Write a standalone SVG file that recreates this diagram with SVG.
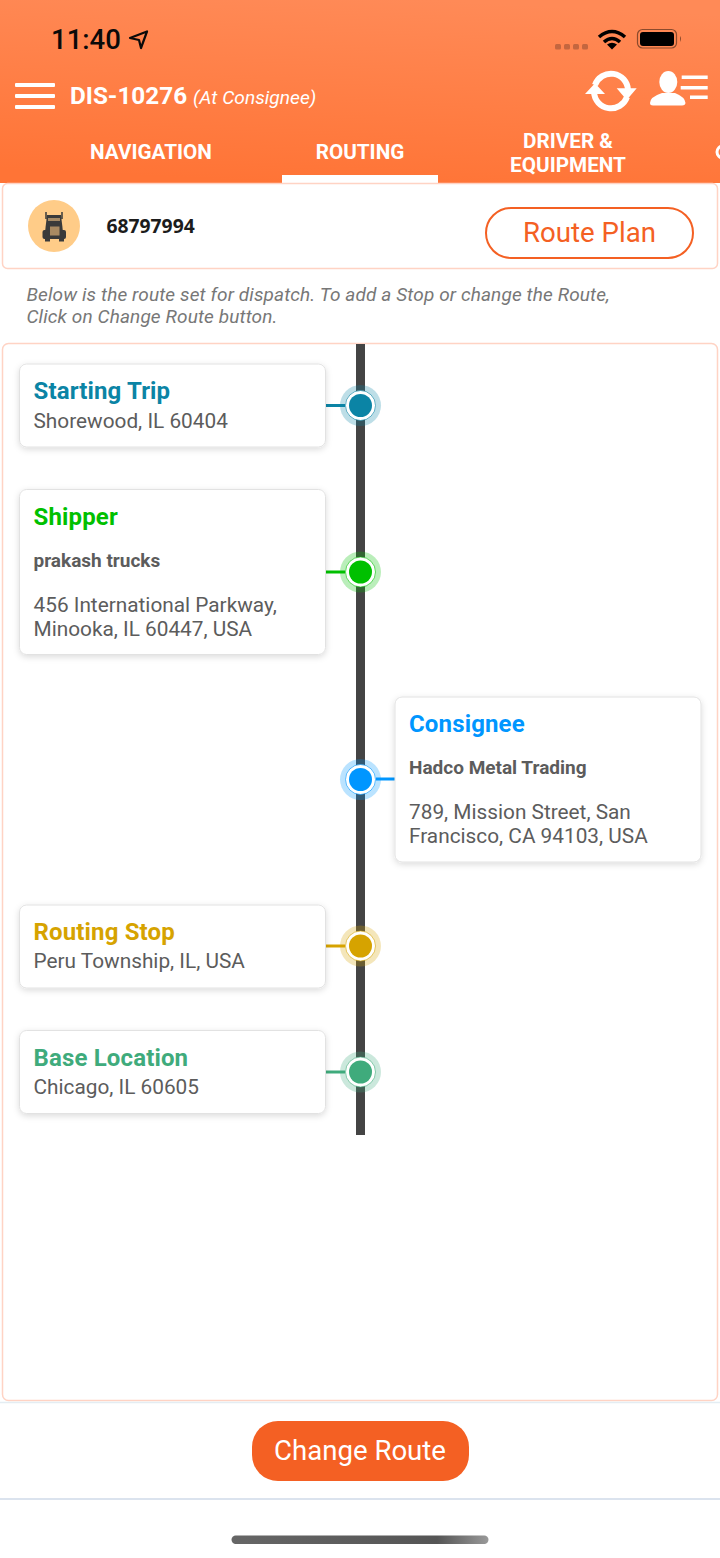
<svg xmlns="http://www.w3.org/2000/svg" width="720" height="1558" viewBox="0 0 720 1558">
<style>
text{font-family:Roboto,"Liberation Sans",sans-serif}
.panel{fill:#fff;stroke:#ffd3c4;stroke-width:1.5}
.card{fill:#fff;stroke:#e2e2e2;stroke-width:1;filter:url(#sh)}
.ttl{font-size:24px;font-weight:700;letter-spacing:.15px}
.addr{font-size:20.8px;fill:#5c5c5c}
.co{font-size:19px;font-weight:700;fill:#5c5c5c}
.tab{font-size:20.7px;font-weight:700;fill:#fff;text-anchor:middle}
.note{font-size:19px;font-style:italic;fill:#777;letter-spacing:.12px}
.btn{font-size:27.6px;text-anchor:middle}
.halo{opacity:.27}
.ring{fill:#fff;stroke-width:1;stroke-opacity:.6}
</style>
<defs>
<linearGradient id="hdr" x1="0.6" y1="0" x2="0.4" y2="1"><stop offset="0" stop-color="#ff8a57"/><stop offset="1" stop-color="#ff7436"/></linearGradient>
<linearGradient id="bar" x1="0" y1="0" x2="1" y2="0"><stop offset="0" stop-color="#666"/><stop offset="0.8" stop-color="#555"/><stop offset="1" stop-color="#999"/></linearGradient>
<filter id="sh" x="-5%" y="-10%" width="110%" height="125%"><feDropShadow dx="0" dy="2" stdDeviation="3" flood-color="#000" flood-opacity="0.14"/></filter>
</defs>
<rect width="720" height="1558" fill="#fff"/>
<g id="header">
<rect width="720" height="183" fill="url(#hdr)"/>
<text x="51" y="49" font-size="27.500" font-weight="500" fill="#0a0a0a">11:40</text>
<path d="M130 38 L147 31.500 L141 48 L139 40 Z" fill="none" stroke="#0a0a0a" stroke-width="2.200" stroke-linejoin="round"/>
<g fill="#c4663f"><rect x="555" y="44" width="6" height="5.500" rx="1.500"/><rect x="564" y="44" width="6" height="5.500" rx="1.500"/><rect x="573" y="44" width="6" height="5.500" rx="1.500"/><rect x="582" y="44" width="6" height="5.500" rx="1.500"/></g>
<path d="M599 37 Q612 26 625 37 M604 42 Q612 35 620 42" fill="none" stroke="#000" stroke-width="3.600"/><path d="M607 44.500 Q612 41 617 44.500 L612 49.500 Z" fill="#000"/>
<rect x="637.500" y="29.500" width="39" height="18.500" rx="5" fill="none" stroke="#8b4a2c" stroke-width="1.200"/>
<rect x="640" y="32" width="34" height="14" rx="3" fill="#000"/>
<path d="M680 36 Q682 38.500 680 42 Z" fill="#8b4a2c"/>
<g fill="#fff"><rect x="15" y="83" width="40" height="4" rx="1"/><rect x="15" y="94" width="40" height="4" rx="1"/><rect x="15" y="105" width="40" height="4" rx="1"/></g>
<text x="70" y="104" font-size="24.300" font-weight="700" fill="#fff">DIS-10276</text>
<text x="193" y="104" font-size="19.200" font-style="italic" fill="#fff">(At Consignee)</text>
<g fill="none" stroke="#fff" stroke-width="6"><path d="M595 85 A17 17 0 0 1 628 90"/><path d="M627 97 A17 17 0 0 1 594 92"/></g>
<path d="M616.700 88.300 L636.700 88.300 L626.700 100 Z M585 94 L605 94 L595 83.300 Z" fill="#fff"/>
<ellipse cx="668.300" cy="82" rx="9" ry="11" fill="#fff"/>
<path d="M650 103 Q650 97 662 93 L675 93 Q685 97 685.500 103 Q685 105.500 682 105.500 L653 105.500 Q650 105.500 650 103 Z" fill="#fff"/>
<g fill="#fff"><rect x="681.700" y="75.500" width="26" height="3.500"/><rect x="680.700" y="86" width="27" height="3.500"/><rect x="690" y="95.500" width="17.700" height="3.500"/></g>
<text class="tab" x="151" y="159">NAVIGATION</text>
<text class="tab" x="360" y="159">ROUTING</text>
<text class="tab" x="568" y="148">DRIVER &amp;</text>
<text class="tab" x="568" y="172">EQUIPMENT</text>
<circle cx="723" cy="152" r="6" fill="none" stroke="#fff" stroke-width="3"/>
<rect x="282" y="175" width="156" height="8" fill="#fff"/>
</g>
<g id="trip-panel">
<rect class="panel" x="2.500" y="183.500" width="715" height="85" rx="5"/>
<circle cx="54" cy="226" r="26" fill="#ffcc88"/>
<path d="M46 212 V219 M62 212 V219" stroke="#3a3a3a" stroke-width="1.500"/>
<path d="M47 215 H61 L63 232 H45 Z" fill="#3a3a3a"/>
<rect x="48" y="218" width="12" height="3" fill="#ffcc88" opacity="0.55"/>
<rect x="42.500" y="230" width="23.500" height="9" rx="2" fill="#3a3a3a"/>
<rect x="50" y="226.500" width="9.500" height="9" fill="#a98a62"/>
<rect x="45" y="238" width="5" height="3.500" fill="#3a3a3a"/><rect x="59" y="238" width="5" height="3.500" fill="#3a3a3a"/>
<text x="106.500" y="233" font-size="19.300" font-weight="700" fill="#1c1c1c" style="font-family:'Open Sans',sans-serif">68797994</text>
<rect x="486" y="208" width="207" height="50" rx="25" fill="#fff" stroke="#f46023" stroke-width="2"/>
<text class="btn" x="589.500" y="242" fill="#f46023">Route Plan</text>
</g>
<g id="note">
<text class="note" x="26.500" y="301">Below is the route set for dispatch. To add a Stop or change the Route,</text>
<text class="note" x="26.500" y="323">Click on Change Route button.</text>
</g>
<rect class="panel" id="route-panel" x="2.500" y="343.500" width="715" height="1057" rx="6"/>
<g id="connectors">
<rect x="356" y="344" width="9" height="791" fill="#444"/>
<path d="M325 405.500H345" stroke="#0b84a5" stroke-width="3"/>
<path d="M325 572H345" stroke="#00c000" stroke-width="3"/>
<path d="M376 779H395" stroke="#0096ff" stroke-width="3"/>
<path d="M325 946H345" stroke="#d6a300" stroke-width="3"/>
<path d="M325 1072H345" stroke="#3fab7c" stroke-width="3"/>
</g>
<g id="node-start">
<rect class="card" x="19.500" y="364" width="306" height="83" rx="7"/>
<text class="ttl" x="33.500" y="398.500" fill="#0b84a5">Starting Trip</text>
<text class="addr" x="33.500" y="428">Shorewood, IL 60404</text>
<circle class="halo" cx="360.500" cy="405.500" r="20.500" fill="#0b84a5"/><circle class="ring" cx="360.500" cy="405.500" r="15" stroke="#0b84a5"/><circle cx="360.500" cy="405.500" r="11.500" fill="#0b84a5"/>
</g>
<g id="node-shipper">
<rect class="card" x="19.500" y="489.500" width="306" height="165" rx="7"/>
<text class="ttl" x="33.500" y="524.500" fill="#00c000">Shipper</text>
<text class="co" x="33.500" y="567">prakash trucks</text>
<text class="addr" x="33.500" y="612">456 International Parkway,</text>
<text class="addr" x="33.500" y="636">Minooka, IL 60447, USA</text>
<circle class="halo" cx="360.500" cy="572" r="20.500" fill="#00c000"/><circle class="ring" cx="360.500" cy="572" r="15" stroke="#00c000"/><circle cx="360.500" cy="572" r="11.500" fill="#00c000"/>
</g>
<g id="node-consignee">
<rect class="card" x="395" y="697" width="306" height="165" rx="7"/>
<text class="ttl" x="409" y="732" fill="#0096ff">Consignee</text>
<text class="co" x="409" y="774">Hadco Metal Trading</text>
<text class="addr" x="409" y="819">789, Mission Street, San</text>
<text class="addr" x="409" y="843">Francisco, CA 94103, USA</text>
<circle class="halo" cx="360.500" cy="779.500" r="20.500" fill="#0096ff"/><circle class="ring" cx="360.500" cy="779.500" r="15" stroke="#0096ff"/><circle cx="360.500" cy="779.500" r="11.500" fill="#0096ff"/>
</g>
<g id="node-routing">
<rect class="card" x="19.500" y="905" width="306" height="83" rx="7"/>
<text class="ttl" x="33.500" y="939.500" fill="#d6a300">Routing Stop</text>
<text class="addr" x="33.500" y="968">Peru Township, IL, USA</text>
<circle class="halo" cx="360.500" cy="946" r="20.500" fill="#d6a300"/><circle class="ring" cx="360.500" cy="946" r="15" stroke="#d6a300"/><circle cx="360.500" cy="946" r="11.500" fill="#d6a300"/>
</g>
<g id="node-base">
<rect class="card" x="19.500" y="1030.500" width="306" height="83" rx="7"/>
<text class="ttl" x="33.500" y="1065.500" fill="#3fab7c">Base Location</text>
<text class="addr" x="33.500" y="1094">Chicago, IL 60605</text>
<circle class="halo" cx="360.500" cy="1072" r="20.500" fill="#3fab7c"/><circle class="ring" cx="360.500" cy="1072" r="15" stroke="#3fab7c"/><circle cx="360.500" cy="1072" r="11.500" fill="#3fab7c"/>
</g>
<g id="footer">
<path d="M0 1402.500H720" stroke="#e4edf3" stroke-width="1.500"/>
<path d="M0 1499H720" stroke="#dbe3ee" stroke-width="2"/>
<rect x="252" y="1421" width="217" height="60" rx="26" fill="#f46023"/>
<text class="btn" x="360" y="1460" fill="#fff">Change Route</text>
<rect x="231.500" y="1535.500" width="257" height="8.500" rx="4.200" fill="url(#bar)"/>
</g>
</svg>
